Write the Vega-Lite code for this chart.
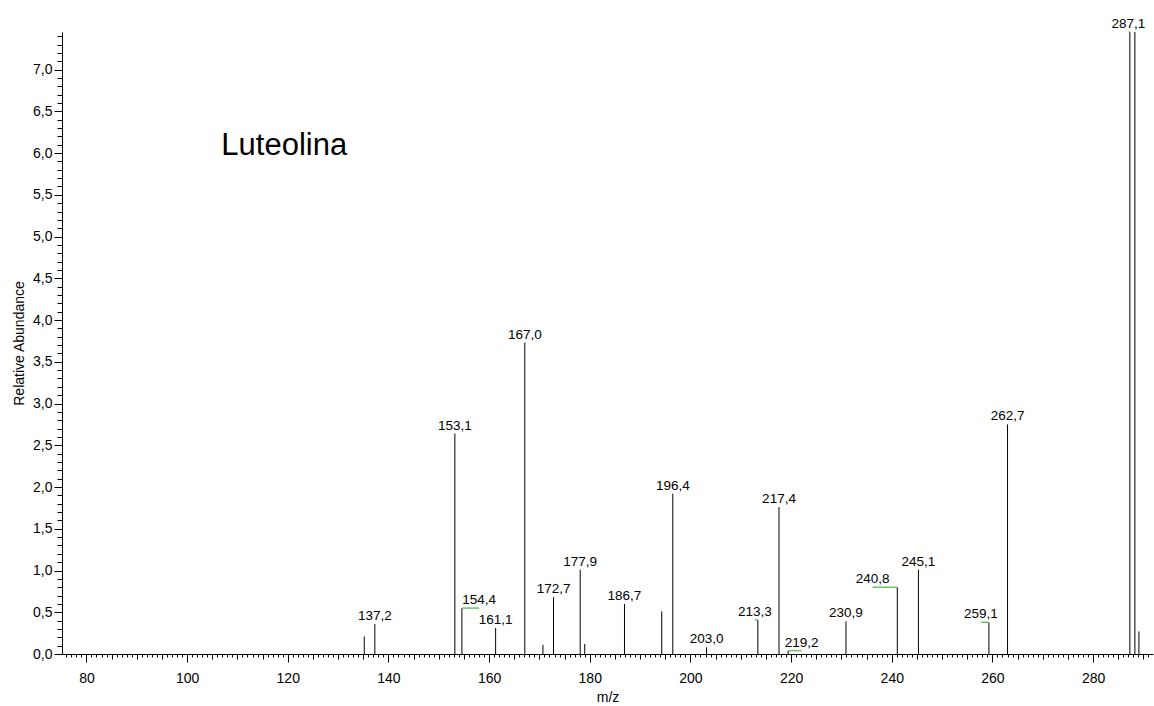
{
  "$schema": "https://vega.github.io/schema/vega-lite/v6.json",
  "width": 1091,
  "height": 622,
  "autosize": {"type": "none"},
  "padding": {"left": 62, "top": 32, "right": 1, "bottom": 52},
  "background": "white",
  "config": {
    "view": {"stroke": null},
    "font": "Liberation Sans",
    "axis": {
      "grid": false,
      "domainColor": "#000",
      "tickColor": "#000",
      "labelColor": "#000",
      "titleColor": "#000",
      "labelFont": "Liberation Sans",
      "titleFont": "Liberation Sans",
      "titleFontWeight": "normal",
      "domainWidth": 1,
      "tickWidth": 1
    }
  },
  "datasets": {
    "peaks": [
      {"mz": 135.2, "abundance": 0.21},
      {"mz": 137.3, "abundance": 0.36, "label": "137,2", "label_mz": 137.3},
      {"mz": 153.2, "abundance": 2.64, "label": "153,1", "label_mz": 153.2},
      {"mz": 154.6, "abundance": 0.55, "label": "154,4", "label_mz": 158.0},
      {"mz": 161.3, "abundance": 0.31, "label": "161,1", "label_mz": 161.3},
      {"mz": 167.1, "abundance": 3.73, "label": "167,0", "label_mz": 167.1},
      {"mz": 170.7, "abundance": 0.11},
      {"mz": 172.8, "abundance": 0.68, "label": "172,7", "label_mz": 172.8},
      {"mz": 178.1, "abundance": 1.01, "label": "177,9", "label_mz": 178.1},
      {"mz": 179.0, "abundance": 0.12},
      {"mz": 186.9, "abundance": 0.60, "label": "186,7", "label_mz": 186.9},
      {"mz": 194.3, "abundance": 0.51},
      {"mz": 196.5, "abundance": 1.92, "label": "196,4", "label_mz": 196.5},
      {"mz": 203.2, "abundance": 0.08, "label": "203,0", "label_mz": 203.2},
      {"mz": 213.4, "abundance": 0.41, "label": "213,3", "label_mz": 212.8},
      {"mz": 217.6, "abundance": 1.76, "label": "217,4", "label_mz": 217.6},
      {"mz": 219.4, "abundance": 0.04, "label": "219,2", "label_mz": 222.1},
      {"mz": 230.9, "abundance": 0.39, "label": "230,9", "label_mz": 230.9},
      {"mz": 241.1, "abundance": 0.80, "label": "240,8", "label_mz": 236.2},
      {"mz": 245.3, "abundance": 1.01, "label": "245,1", "label_mz": 245.3},
      {"mz": 259.3, "abundance": 0.38, "label": "259,1", "label_mz": 257.7},
      {"mz": 263.0, "abundance": 2.75, "label": "262,7", "label_mz": 263.0},
      {"mz": 287.3, "abundance": 7.45, "label": "287,1", "label_mz": 287.0},
      {"mz": 288.3, "abundance": 7.45},
      {"mz": 289.1, "abundance": 0.27}
    ],
    "title": [
      {"mz": 106.8, "abundance": 5.98, "text": "Luteolina"}
    ]
  },
  "layer": [
    {
      "data": {"name": "peaks"},
      "mark": {"type": "rule", "color": "#000", "strokeWidth": 1},
      "encoding": {
        "x": {
          "field": "mz", "type": "quantitative",
          "scale": {"domain": [75.15, 291.9], "nice": false, "zero": false},
          "axis": {
            "orient": "bottom",
            "values": [80, 100, 120, 140, 160, 180, 200, 220, 240, 260, 280],
            "tickSize": 8,
            "labelFontSize": 14,
            "labelPadding": 9,
            "title": "m/z",
            "titleFontSize": 14,
            "titlePadding": 5
          }
        },
        "y": {
          "field": "abundance", "type": "quantitative",
          "scale": {"domain": [0, 7.45], "nice": false},
          "axis": {
            "orient": "left",
            "values": [0, 0.5, 1, 1.5, 2, 2.5, 3, 3.5, 4, 4.5, 5, 5.5, 6, 6.5, 7],
            "tickSize": 8,
            "labelFontSize": 14,
            "labelPadding": 2,
            "labelExpr": "replace(format(datum.value, '.1f'), '.', ',')",
            "title": "Relative Abundance",
            "titleFontSize": 14,
            "titlePadding": 6
          }
        },
        "y2": {"datum": 0}
      }
    },
    {
      "data": {"name": "peaks"},
      "transform": [{"filter": "datum.label_mz != null && datum.label_mz != datum.mz"}],
      "mark": {"type": "rule", "color": "#6cc46a", "strokeWidth": 1.5},
      "encoding": {
        "x": {
          "field": "mz", "type": "quantitative",
          "axis": {"orient": "bottom", "tickCount": 216, "tickSize": 3, "labels": false, "domain": false, "title": null}
        },
        "x2": {"field": "label_mz"},
        "y": {
          "field": "abundance", "type": "quantitative",
          "axis": {"orient": "left", "tickCount": 74, "tickSize": 5, "labels": false, "domain": false, "title": null}
        }
      }
    },
    {
      "data": {"name": "peaks"},
      "transform": [{"filter": "datum.label != null"}],
      "mark": {"type": "text", "fontSize": 13.5, "font": "Liberation Sans", "color": "#000", "baseline": "alphabetic", "align": "center", "dy": -4},
      "encoding": {
        "x": {
          "field": "label_mz", "type": "quantitative",
          "axis": {"orient": "bottom", "tickCount": 43, "tickSize": 5, "labels": false, "domain": false, "title": null}
        },
        "y": {"field": "abundance", "type": "quantitative", "axis": null},
        "text": {"field": "label"}
      }
    },
    {
      "data": {"name": "title"},
      "mark": {"type": "text", "fontSize": 31, "font": "Liberation Sans", "color": "#000", "baseline": "alphabetic", "align": "left"},
      "encoding": {
        "x": {"field": "mz", "type": "quantitative", "axis": null},
        "y": {"field": "abundance", "type": "quantitative", "axis": null},
        "text": {"field": "text"}
      }
    }
  ],
  "resolve": {"axis": {"x": "independent", "y": "independent"}}
}
